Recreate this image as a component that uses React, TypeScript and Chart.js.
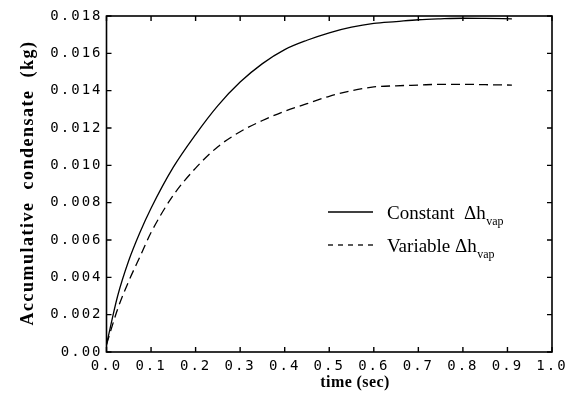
import React, { useEffect, useRef } from "react";
import { Chart, registerables } from "chart.js";

Chart.register(...registerables);

// ---- data ----
const timeValues = [0, 0.025, 0.05, 0.075, 0.1, 0.15, 0.2, 0.25, 0.3, 0.35, 0.4, 0.45, 0.5, 0.55, 0.6, 0.65, 0.7, 0.75, 0.8, 0.85, 0.91];
const constantValues = [0.0004, 0.003, 0.0049, 0.0064, 0.0077, 0.0099, 0.01165, 0.0132, 0.01446, 0.01545, 0.0162, 0.0167, 0.0171, 0.0174, 0.0176, 0.0177, 0.0178, 0.01785, 0.01788, 0.01787, 0.01785];
const variableValues = [0.0004, 0.0023, 0.0038, 0.0051, 0.0064, 0.0084, 0.00985, 0.011, 0.0118, 0.0124, 0.0129, 0.0133, 0.0137, 0.014, 0.0142, 0.01426, 0.0143, 0.01434, 0.01434, 0.01432, 0.0143];

const xTickLabels = ["0.0", "0.1", "0.2", "0.3", "0.4", "0.5", "0.6", "0.7", "0.8", "0.9", "1.0"];
const yTickLabels = ["0.00", "0.002", "0.004", "0.006", "0.008", "0.010", "0.012", "0.014", "0.016", "0.018"];

const seriesLabels = ["Constant  \u0394h", "Variable \u0394h"];
const seriesSubscript = "vap";
const xTitle = "time (sec)";
const yTitle = "Accumulative  condensate  (kg)";

const TICK_SPACING = "2px";

const paperPlugin = {
  id: "paper",
  beforeUpdate(chart: any) {
    chart.ctx.letterSpacing = TICK_SPACING;
  },
  beforeDraw(chart: any) {
    chart.ctx.letterSpacing = TICK_SPACING;
  },
  afterDraw(chart: any) {
    const { ctx, chartArea: a, scales } = chart;
    ctx.save();
    ctx.letterSpacing = "0px";
    ctx.strokeStyle = "#000";
    ctx.fillStyle = "#000";

    // frame
    ctx.lineWidth = 1.6;
    ctx.strokeRect(a.left, a.top, a.right - a.left, a.bottom - a.top);

    // inward ticks on all four sides
    const len = 5;
    ctx.lineWidth = 1.4;
    ctx.beginPath();
    scales.x.ticks.forEach((t: any) => {
      const px = scales.x.getPixelForValue(t.value);
      ctx.moveTo(px, a.bottom);
      ctx.lineTo(px, a.bottom - len);
      ctx.moveTo(px, a.top);
      ctx.lineTo(px, a.top + len);
    });
    scales.y.ticks.forEach((t: any) => {
      const py = scales.y.getPixelForValue(t.value);
      ctx.moveTo(a.left, py);
      ctx.lineTo(a.left + len, py);
      ctx.moveTo(a.right, py);
      ctx.lineTo(a.right - len, py);
    });
    ctx.stroke();

    // axis titles
    ctx.font = 'bold 16px "Liberation Serif"';
    ctx.letterSpacing = "0.4px";
    ctx.textAlign = "center";
    ctx.textBaseline = "alphabetic";
    ctx.fillText(xTitle, 355, 387);

    ctx.save();
    ctx.font = 'bold 18px "Liberation Serif"';
    ctx.letterSpacing = "1.5px";
    ctx.translate(33, 183);
    ctx.rotate(-Math.PI / 2);
    ctx.fillText(yTitle, 0, 0);
    ctx.restore();

    // legend
    const rows = [212, 245];
    chart.data.datasets.forEach((ds: any, i: number) => {
      const y = rows[i];
      ctx.save();
      ctx.lineWidth = 1.3;
      ctx.setLineDash(i === 0 ? [] : [5, 5]);
      ctx.beginPath();
      ctx.moveTo(328, y);
      ctx.lineTo(373, y);
      ctx.stroke();
      ctx.restore();
      ctx.letterSpacing = "0px";
      ctx.textAlign = "left";
      ctx.font = '19px "Liberation Serif"';
      const label = seriesLabels[i];
      ctx.fillText(label, 387, y + 6.5);
      const w = ctx.measureText(label).width;
      ctx.font = '12px "Liberation Serif"';
      ctx.fillText(seriesSubscript, 387 + w + 0.5, y + 12.5);
    });

    ctx.restore();
  },
};

export default function App() {
  const canvasRef = useRef<HTMLCanvasElement | null>(null);

  useEffect(() => {
    const canvas = canvasRef.current;
    if (!canvas) return;
    const tickFont = { family: '"DejaVu Sans Mono"', size: 14 };
    const chart = new Chart(canvas, {
      type: "line",
      data: {
        datasets: [
          {
            label: "Constant",
            data: timeValues.map((t, i) => ({ x: t, y: constantValues[i] })),
            borderColor: "#000",
            borderWidth: 1.3,
            pointRadius: 0,
            fill: false,
            cubicInterpolationMode: "monotone",
          },
          {
            label: "Variable",
            data: timeValues.map((t, i) => ({ x: t, y: variableValues[i] })),
            borderColor: "#000",
            borderWidth: 1.3,
            borderDash: [9, 5],
            pointRadius: 0,
            fill: false,
            cubicInterpolationMode: "monotone",
          },
        ],
      },
      options: {
        animation: false,
        responsive: false,
        maintainAspectRatio: false,
        layout: { padding: { left: 0, top: 16, right: 15, bottom: 0 } },
        plugins: {
          legend: { display: false },
          tooltip: { enabled: false },
          title: { display: false },
        },
        scales: {
          x: {
            type: "linear",
            min: 0,
            max: 1,
            grid: { display: false, drawTicks: false },
            border: { display: false },
            ticks: {
              stepSize: 0.1,
              autoSkip: false,
              maxRotation: 0,
              padding: 6,
              color: "#000",
              font: tickFont,
              callback: (v: any) => xTickLabels[Math.round(Number(v) / 0.1)] ?? "",
            },
            afterFit: (s: any) => {
              s.height = 65;
              s.paddingLeft = 0;
              s.paddingRight = 0;
            },
          },
          y: {
            type: "linear",
            min: 0,
            max: 0.018,
            grid: { display: false, drawTicks: false },
            border: { display: false },
            ticks: {
              stepSize: 0.002,
              autoSkip: false,
              padding: 4,
              color: "#000",
              font: tickFont,
              callback: (v: any) => yTickLabels[Math.round(Number(v) / 0.002)] ?? "",
            },
            afterFit: (s: any) => {
              s.width = 106.5;
              s.paddingTop = 0;
              s.paddingBottom = 0;
            },
          },
        },
      },
      plugins: [paperPlugin],
    });
    return () => chart.destroy();
  }, []);

  return (
    <div style={{ position: "fixed", left: 0, top: 0, width: 567, height: 417, background: "#fff" }}>
      <canvas ref={canvasRef} width={567} height={417} style={{ display: "block" }} />
    </div>
  );
}
